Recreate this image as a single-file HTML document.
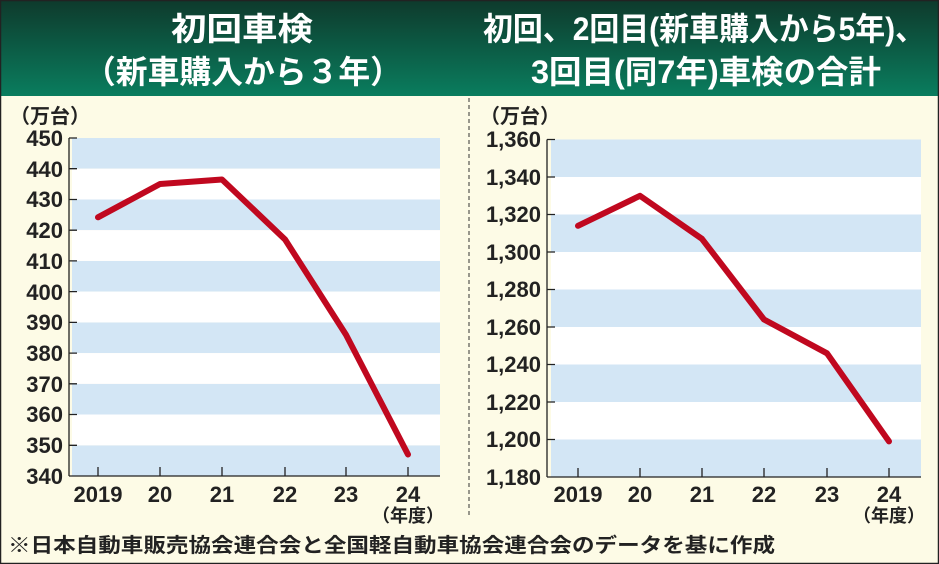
<!DOCTYPE html>
<html><head><meta charset="utf-8"><style>
html,body{margin:0;padding:0;}
body{width:939px;height:564px;overflow:hidden;background:#fdfbe6;}
svg{display:block;}
text{font-family:"Liberation Sans","Noto Sans CJK JP",sans-serif;font-weight:bold;}
.n{font-family:"Liberation Sans Narrow","Liberation Sans",sans-serif;}
</style></head><body>
<svg width="939" height="564" viewBox="0 0 939 564">
<defs><linearGradient id="g" x1="0" y1="0" x2="0" y2="1"><stop offset="0" stop-color="#0e3a2c"/><stop offset="1" stop-color="#0a7d5e"/></linearGradient></defs>
<rect x="0" y="0" width="939" height="564" fill="#fdfbe6"/>
<rect x="0" y="0" width="939" height="96" fill="url(#g)"/>
<rect x="0.5" y="0.5" width="938" height="563" fill="none" stroke="#222" stroke-width="1.5"/>
<line x1="469" y1="98" x2="469" y2="516" stroke="#333" stroke-width="1" stroke-dasharray="4,3"/>
<g fill="#fff" font-size="32" text-anchor="middle">
<text x="242" y="40" textLength="142" lengthAdjust="spacingAndGlyphs">初回車検</text>
<text x="243" y="83" textLength="318" lengthAdjust="spacingAndGlyphs">（新車購入から３年）</text>
<text x="704" y="40" textLength="442" lengthAdjust="spacingAndGlyphs">初回、2回目(新車購入から5年)、</text>
<text x="706" y="83" textLength="350" lengthAdjust="spacingAndGlyphs">3回目(同7年)車検の合計</text>
</g>
<!-- left chart -->
<g fill="#d3e6f5">
<rect x="72" y="138" width="368" height="30.7"/><rect x="72" y="199.5" width="368" height="30.7"/><rect x="72" y="260.9" width="368" height="30.7"/><rect x="72" y="322.4" width="368" height="30.7"/><rect x="72" y="383.8" width="368" height="30.7"/><rect x="72" y="445.3" width="368" height="30.7"/>
</g>
<g fill="#fff">
<rect x="72" y="168.7" width="368" height="30.8"/><rect x="72" y="230.2" width="368" height="30.7"/><rect x="72" y="291.6" width="368" height="30.8"/><rect x="72" y="353.1" width="368" height="30.7"/><rect x="72" y="414.5" width="368" height="30.8"/>
</g>
<g stroke="#222" stroke-width="1.3">
<line x1="69" y1="138" x2="69" y2="476"/><line x1="69" y1="476" x2="440" y2="476"/>
<path d="M69 138h8M69 168.7h8M69 199.5h8M69 230.2h8M69 260.9h8M69 291.6h8M69 322.4h8M69 353.1h8M69 383.8h8M69 414.5h8M69 445.3h8"/>
<path d="M98 476v-9M160 476v-9M222 476v-9M285 476v-9M346 476v-9M408 476v-9"/>
</g>
<g class="n" font-size="22" fill="#222" text-anchor="end">
<text class="n" x="63" y="146">450</text><text class="n" x="63" y="177">440</text><text class="n" x="63" y="207">430</text><text class="n" x="63" y="238">420</text><text class="n" x="63" y="269">410</text><text class="n" x="63" y="300">400</text><text class="n" x="63" y="330">390</text><text class="n" x="63" y="361">380</text><text class="n" x="63" y="392">370</text><text class="n" x="63" y="422">360</text><text class="n" x="63" y="453">350</text><text class="n" x="63" y="484">340</text>
</g>
<text x="10" y="123" font-size="20" fill="#222">（万台）</text>
<g font-size="22" fill="#222" text-anchor="middle">
<text class="n" x="98" y="502">2019</text><text class="n" x="160" y="502">20</text><text class="n" x="222" y="502">21</text><text class="n" x="285" y="502">22</text><text class="n" x="346" y="502">23</text><text class="n" x="408" y="502">24</text>
</g>
<text x="408" y="522" font-size="18" fill="#222" text-anchor="middle">（年度）</text>
<polyline points="98,217.3 160,184 222,179.5 285,239.4 346,334.7 408,454.5" fill="none" stroke="#c0081f" stroke-width="6" stroke-linejoin="round" stroke-linecap="round"/>
<!-- right chart -->
<g fill="#d3e6f5">
<rect x="551" y="139.5" width="370" height="37.5"/><rect x="551" y="214.5" width="370" height="37.5"/><rect x="551" y="289.5" width="370" height="37.5"/><rect x="551" y="364.5" width="370" height="37.5"/><rect x="551" y="439.5" width="370" height="37.5"/>
</g>
<g fill="#fff">
<rect x="551" y="177" width="370" height="37.5"/><rect x="551" y="252" width="370" height="37.5"/><rect x="551" y="327" width="370" height="37.5"/><rect x="551" y="402" width="370" height="37.5"/>
</g>
<g stroke="#222" stroke-width="1.3">
<line x1="547" y1="139.5" x2="547" y2="477"/><line x1="547" y1="477" x2="921" y2="477"/>
<path d="M547 139.5h8M547 177h8M547 214.5h8M547 252h8M547 289.5h8M547 327h8M547 364.5h8M547 402h8M547 439.5h8"/>
<path d="M578 477v-9M640 477v-9M702 477v-9M764 477v-9M827 477v-9M889 477v-9"/>
</g>
<g font-size="22" fill="#222" text-anchor="end">
<text class="n" x="541" y="147">1,360</text><text class="n" x="541" y="185">1,340</text><text class="n" x="541" y="222">1,320</text><text class="n" x="541" y="260">1,300</text><text class="n" x="541" y="297">1,280</text><text class="n" x="541" y="335">1,260</text><text class="n" x="541" y="372">1,240</text><text class="n" x="541" y="410">1,220</text><text class="n" x="541" y="447">1,200</text><text class="n" x="541" y="485">1,180</text>
</g>
<text x="480" y="123" font-size="20" fill="#222">（万台）</text>
<g font-size="22" fill="#222" text-anchor="middle">
<text class="n" x="578" y="502">2019</text><text class="n" x="640" y="502">20</text><text class="n" x="702" y="502">21</text><text class="n" x="764" y="502">22</text><text class="n" x="827" y="502">23</text><text class="n" x="889" y="502">24</text>
</g>
<text x="889" y="522" font-size="18" fill="#222" text-anchor="middle">（年度）</text>
<polyline points="578,225.8 640,195.8 702,238.9 764,319.5 827,353.3 889,441.4" fill="none" stroke="#c0081f" stroke-width="6" stroke-linejoin="round" stroke-linecap="round"/>
<text x="8" y="552" font-size="20" fill="#222" textLength="767" lengthAdjust="spacingAndGlyphs">※日本自動車販売協会連合会と全国軽自動車協会連合会のデータを基に作成</text>
</svg>
</body></html>
